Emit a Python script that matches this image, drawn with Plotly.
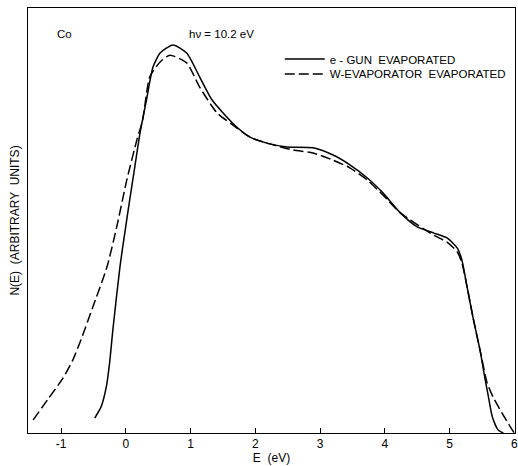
import plotly.graph_objects as go

# e-gun evaporated (solid)
e_solid = [-0.48, -0.38, -0.30, -0.25, -0.20, -0.09, -0.015, 0.06, 0.14, 0.22, 0.32, 0.42, 0.53, 0.73,
           0.94, 1.14, 1.33, 1.65, 1.92, 2.18, 2.49, 2.89, 3.20, 3.46, 3.73, 3.97, 4.24, 4.50,
           4.75, 4.96, 5.12, 5.19, 5.27, 5.36, 5.47, 5.55, 5.60, 5.66, 5.75, 5.83]
n_solid = [3.5, 6.2, 10.9, 16.5, 24.2, 39.1, 47.1, 54.8, 62.7, 70.6, 78.4, 86.1, 89.4, 91.3,
           89.4, 83.8, 78.4, 72.9, 69.6, 68.2, 67.3, 67.1, 65.4, 63.1, 60.0, 56.5, 51.8, 48.5,
           47.1, 45.9, 43.5, 40.7, 34.4, 27.3, 19.5, 12.5, 8.5, 3.8, 0.7, 0.0]

# W-evaporator evaporated (dashed)
e_dash = [-1.43, -1.20, -0.97, -0.82, -0.69, -0.51, -0.29, -0.14, 0.015, 0.17, 0.26, 0.37, 0.53, 0.68,
          0.94, 1.14, 1.41, 1.65, 1.92, 2.18, 2.58, 2.89, 3.20, 3.46, 3.73, 3.97, 4.24,
          4.75, 4.96, 5.12, 5.19, 5.27, 5.36, 5.47, 5.58, 5.67, 5.81, 5.94, 6.0]
n_dash = [3.1, 8.0, 12.9, 17.1, 22.0, 29.6, 39.1, 48.5, 59.5, 68.9, 73.6, 83.8, 87.3, 88.9,
          87.1, 81.4, 75.3, 72.5, 69.6, 68.2, 66.6, 65.9, 64.2, 62.4, 59.5, 56.0, 51.8,
          46.6, 44.9, 42.6, 40.0, 34.4, 27.3, 19.5, 11.8, 8.5, 4.7, 1.4, 0.0]

x_ticks = [-1, 0, 1, 2, 3, 4, 5, 6]
x_ticklabels = ["-1", "0", "1", "2", "3", "4", "5", "6"]

FONT = "Liberation Sans"

fig = go.Figure()
fig.add_trace(go.Scatter(x=e_solid, y=n_solid, mode="lines", name="e - GUN  EVAPORATED",
                         legend="legend",
                         line=dict(color="black", width=1.5, shape="spline", smoothing=0.6)))
fig.add_trace(go.Scatter(x=e_dash, y=n_dash, mode="lines", name="W-EVAPORATOR  EVAPORATED",
                         legend="legend2",
                         line=dict(color="black", width=1.5, shape="spline", smoothing=0.6,
                                   dash="10px,4px")))

leg_common = dict(xanchor="left", yanchor="middle", bgcolor="rgba(0,0,0,0)",
                  font=dict(size=11.5), itemwidth=40, borderwidth=0)

fig.update_layout(
    width=518, height=466,
    margin=dict(l=28, r=3, t=8, b=33),
    paper_bgcolor="white", plot_bgcolor="white",
    font=dict(family=FONT, color="black", size=12),
    showlegend=True,
    legend=dict(x=0.517, y=0.88, **leg_common),
    legend2=dict(x=0.517, y=0.845, **leg_common),
    xaxis=dict(range=[-1.51, 6.01], tickvals=x_ticks, ticktext=x_ticklabels, ticks="inside",
               ticklen=5, tickcolor="black", showline=True, linecolor="black", linewidth=1,
               mirror=True, showgrid=False, zeroline=False, automargin=False,
               ticklabeloverflow="allow",
               title=dict(text="E  (eV)", font=dict(size=12), standoff=2),
               tickfont=dict(size=12)),
    yaxis=dict(range=[0, 100], showticklabels=False, ticks="", showline=True,
               linecolor="black", linewidth=1, mirror=True, showgrid=False, zeroline=False,
               title=dict(text="N(E)  (ARBITRARY  UNITS)", font=dict(size=12), standoff=4)),
    annotations=[
        dict(text="Co", x=0.055, y=0.94, xref="paper", yref="paper", showarrow=False,
             xanchor="left", yanchor="middle", font=dict(size=11.5)),
        dict(text="h\u03bd = 10.2 eV", x=0.326, y=0.94, xref="paper", yref="paper",
             showarrow=False, xanchor="left", yanchor="middle", font=dict(size=11.5)),
    ],
)

fig.write_html("out.html")
